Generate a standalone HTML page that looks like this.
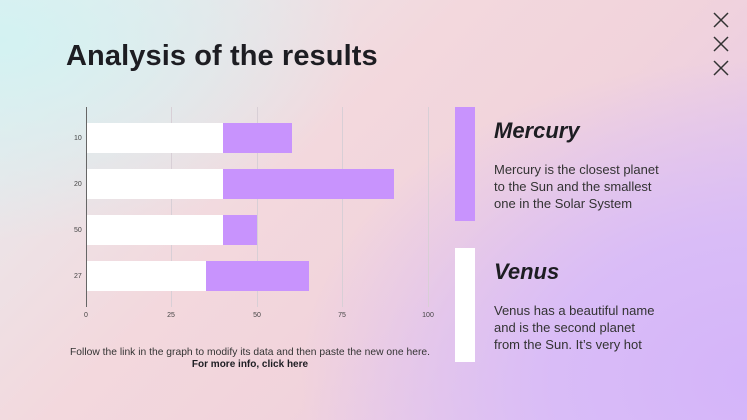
<!DOCTYPE html>
<html><head><style>
body{margin:0;width:747px;height:420px;overflow:hidden;position:relative;font-family:"Liberation Sans",sans-serif;
background:
radial-gradient(ellipse 460px 320px at 760px 380px,#d4b4fa 0%,#d9bcf7 45%,rgba(230,200,240,0) 100%),
radial-gradient(ellipse 360px 200px at 0px 40px,#d3f2f2 0%,rgba(240,220,225,0) 100%),
linear-gradient(135deg,#e6eef0 0%,#f3d8dd 40%,#f1d3dc 60%,#e2c4ef 100%);}
.t{position:absolute;left:66px;top:40px;font-size:29px;font-weight:bold;color:#1d1d22;letter-spacing:0.1px}
.h{position:absolute;left:494px;font-size:22px;font-weight:bold;font-style:italic;color:#1d1d22}
.p{position:absolute;left:494px;font-size:13px;line-height:17px;color:#333;width:230px;white-space:nowrap}
</style></head><body>
<div class="t">Analysis of the results</div>
<svg style="position:absolute;left:713px;top:12px" width="17" height="66"><g stroke="#333" stroke-width="1.5"><path d="M1 1L15 15M15 1L1 15M1 25L15 39M15 25L1 39M1 49L15 63M15 49L1 63"/></g></svg>
<svg style="position:absolute;left:0;top:0" width="747" height="420">
<g stroke="#d8cfd6" stroke-width="1"><line x1="171.5" y1="107" x2="171.5" y2="307"/><line x1="257.5" y1="107" x2="257.5" y2="307"/><line x1="342.5" y1="107" x2="342.5" y2="307"/><line x1="428.5" y1="107" x2="428.5" y2="307"/></g>
<rect x="87" y="123" width="136" height="30" fill="#fff"/><rect x="223" y="123" width="69" height="30" fill="#c893fd"/>
<rect x="87" y="169" width="136" height="30" fill="#fff"/><rect x="223" y="169" width="171" height="30" fill="#c893fd"/>
<rect x="87" y="215" width="136" height="30" fill="#fff"/><rect x="223" y="215" width="34" height="30" fill="#c893fd"/>
<rect x="87" y="261" width="119" height="30" fill="#fff"/><rect x="206" y="261" width="103" height="30" fill="#c893fd"/>
<line x1="86.5" y1="107" x2="86.5" y2="307" stroke="#666" stroke-width="1"/>
<g font-size="7" fill="#444" font-family="Liberation Sans"><text x="74" y="140">10</text><text x="74" y="186">20</text><text x="74" y="232">50</text><text x="74" y="278">27</text>
<g text-anchor="middle"><text x="86" y="317">0</text><text x="171" y="317">25</text><text x="257" y="317">50</text><text x="342" y="317">75</text><text x="428" y="317">100</text></g></g>
<text x="250" y="355" font-size="10.3" fill="#333" text-anchor="middle" font-family="Liberation Sans" textLength="360">Follow the link in the graph to modify its data and then paste the new one here.</text>
<text x="250" y="367" font-size="10" fill="#1d1d22" font-weight="bold" text-anchor="middle" font-family="Liberation Sans">For more info, click here</text>
<rect x="455" y="107" width="20" height="114" fill="#c893fd"/>
<rect x="455" y="248" width="20" height="114" fill="#fff"/>
</svg>
<div class="h" style="top:118px">Mercury</div>
<div class="p" style="top:161px">Mercury is the closest planet<br>to the Sun and the smallest<br>one in the Solar System</div>
<div class="h" style="top:259px">Venus</div>
<div class="p" style="top:302px">Venus has a beautiful name<br>and is the second planet<br>from the Sun. It’s very hot</div>
</body></html>
